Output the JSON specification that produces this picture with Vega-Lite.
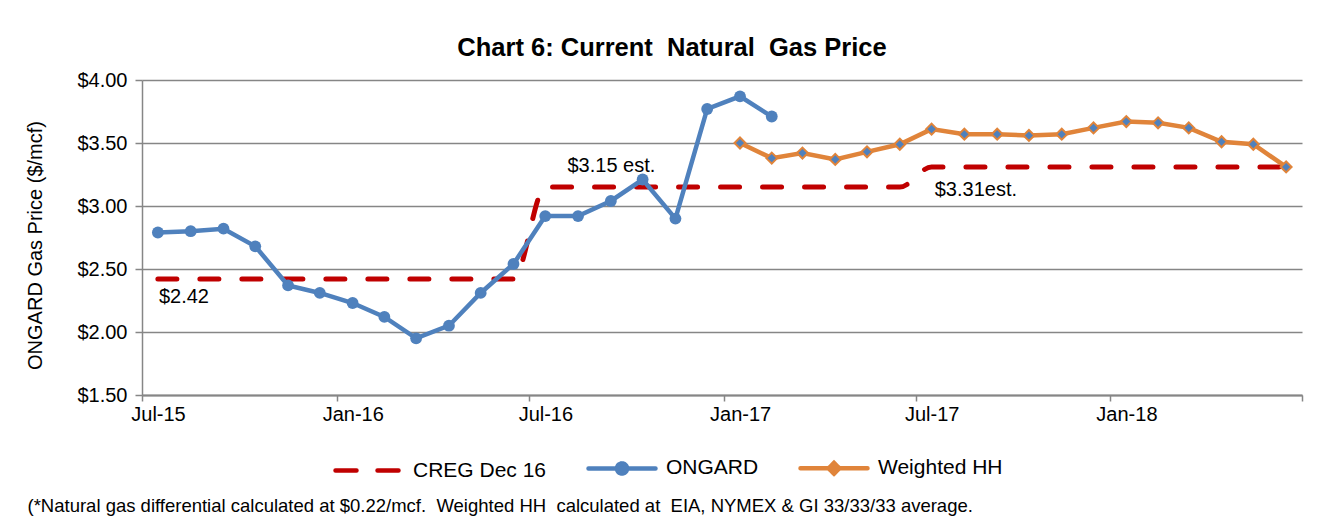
{
  "$schema": "https://vega.github.io/schema/vega-lite/v6.json",
  "width": 1160,
  "height": 315,
  "autosize": "none",
  "padding": {"left": 142, "top": 80, "right": 41, "bottom": 132},
  "background": "white",
  "config": {"font": "Liberation Sans", "view": {"stroke": null}},
  "title": {"text": "Chart 6: Current\u00a0 Natural\u00a0 Gas Price", "fontSize": 25.5, "fontWeight": "bold", "color": "black", "anchor": "middle", "dx": -50, "offset": 9},
  "data": {"values": [
    {"series": "CREG Dec 16", "date": "2015-07-16", "price": 2.42},
    {"series": "CREG Dec 16", "date": "2015-08-16", "price": 2.42},
    {"series": "CREG Dec 16", "date": "2015-09-16", "price": 2.42},
    {"series": "CREG Dec 16", "date": "2015-10-16", "price": 2.42},
    {"series": "CREG Dec 16", "date": "2015-11-16", "price": 2.42},
    {"series": "CREG Dec 16", "date": "2015-12-16", "price": 2.42},
    {"series": "CREG Dec 16", "date": "2016-01-16", "price": 2.42},
    {"series": "CREG Dec 16", "date": "2016-02-15", "price": 2.42},
    {"series": "CREG Dec 16", "date": "2016-03-16", "price": 2.42},
    {"series": "CREG Dec 16", "date": "2016-04-16", "price": 2.42},
    {"series": "CREG Dec 16", "date": "2016-05-16", "price": 2.42},
    {"series": "CREG Dec 16", "date": "2016-06-16", "price": 2.42},
    {"series": "CREG Dec 16", "date": "2016-07-16", "price": 3.15},
    {"series": "CREG Dec 16", "date": "2016-08-16", "price": 3.15},
    {"series": "CREG Dec 16", "date": "2016-09-16", "price": 3.15},
    {"series": "CREG Dec 16", "date": "2016-10-16", "price": 3.15},
    {"series": "CREG Dec 16", "date": "2016-11-16", "price": 3.15},
    {"series": "CREG Dec 16", "date": "2016-12-16", "price": 3.15},
    {"series": "CREG Dec 16", "date": "2017-01-16", "price": 3.15},
    {"series": "CREG Dec 16", "date": "2017-02-15", "price": 3.15},
    {"series": "CREG Dec 16", "date": "2017-03-16", "price": 3.15},
    {"series": "CREG Dec 16", "date": "2017-04-16", "price": 3.15},
    {"series": "CREG Dec 16", "date": "2017-05-16", "price": 3.15},
    {"series": "CREG Dec 16", "date": "2017-06-16", "price": 3.15},
    {"series": "CREG Dec 16", "date": "2017-07-16", "price": 3.31},
    {"series": "CREG Dec 16", "date": "2017-08-16", "price": 3.31},
    {"series": "CREG Dec 16", "date": "2017-09-16", "price": 3.31},
    {"series": "CREG Dec 16", "date": "2017-10-16", "price": 3.31},
    {"series": "CREG Dec 16", "date": "2017-11-16", "price": 3.31},
    {"series": "CREG Dec 16", "date": "2017-12-16", "price": 3.31},
    {"series": "CREG Dec 16", "date": "2018-01-16", "price": 3.31},
    {"series": "CREG Dec 16", "date": "2018-02-15", "price": 3.31},
    {"series": "CREG Dec 16", "date": "2018-03-16", "price": 3.31},
    {"series": "CREG Dec 16", "date": "2018-04-16", "price": 3.31},
    {"series": "CREG Dec 16", "date": "2018-05-16", "price": 3.31},
    {"series": "CREG Dec 16", "date": "2018-06-16", "price": 3.31},
    {"series": "ONGARD", "date": "2015-07-16", "price": 2.79},
    {"series": "ONGARD", "date": "2015-08-16", "price": 2.80},
    {"series": "ONGARD", "date": "2015-09-16", "price": 2.82},
    {"series": "ONGARD", "date": "2015-10-16", "price": 2.68},
    {"series": "ONGARD", "date": "2015-11-16", "price": 2.37},
    {"series": "ONGARD", "date": "2015-12-16", "price": 2.31},
    {"series": "ONGARD", "date": "2016-01-16", "price": 2.23},
    {"series": "ONGARD", "date": "2016-02-15", "price": 2.12},
    {"series": "ONGARD", "date": "2016-03-16", "price": 1.95},
    {"series": "ONGARD", "date": "2016-04-16", "price": 2.05},
    {"series": "ONGARD", "date": "2016-05-16", "price": 2.31},
    {"series": "ONGARD", "date": "2016-06-16", "price": 2.54},
    {"series": "ONGARD", "date": "2016-07-16", "price": 2.92},
    {"series": "ONGARD", "date": "2016-08-16", "price": 2.92},
    {"series": "ONGARD", "date": "2016-09-16", "price": 3.04},
    {"series": "ONGARD", "date": "2016-10-16", "price": 3.21},
    {"series": "ONGARD", "date": "2016-11-16", "price": 2.90},
    {"series": "ONGARD", "date": "2016-12-16", "price": 3.77},
    {"series": "ONGARD", "date": "2017-01-16", "price": 3.87},
    {"series": "ONGARD", "date": "2017-02-15", "price": 3.71},
    {"series": "Weighted HH", "date": "2017-01-16", "price": 3.50},
    {"series": "Weighted HH", "date": "2017-02-15", "price": 3.38},
    {"series": "Weighted HH", "date": "2017-03-16", "price": 3.42},
    {"series": "Weighted HH", "date": "2017-04-16", "price": 3.37},
    {"series": "Weighted HH", "date": "2017-05-16", "price": 3.43},
    {"series": "Weighted HH", "date": "2017-06-16", "price": 3.49},
    {"series": "Weighted HH", "date": "2017-07-16", "price": 3.61},
    {"series": "Weighted HH", "date": "2017-08-16", "price": 3.57},
    {"series": "Weighted HH", "date": "2017-09-16", "price": 3.57},
    {"series": "Weighted HH", "date": "2017-10-16", "price": 3.56},
    {"series": "Weighted HH", "date": "2017-11-16", "price": 3.57},
    {"series": "Weighted HH", "date": "2017-12-16", "price": 3.62},
    {"series": "Weighted HH", "date": "2018-01-16", "price": 3.67},
    {"series": "Weighted HH", "date": "2018-02-15", "price": 3.66},
    {"series": "Weighted HH", "date": "2018-03-16", "price": 3.62},
    {"series": "Weighted HH", "date": "2018-04-16", "price": 3.51},
    {"series": "Weighted HH", "date": "2018-05-16", "price": 3.49},
    {"series": "Weighted HH", "date": "2018-06-16", "price": 3.31}
  ]},
  "encoding": {
    "x": {
      "field": "date", "type": "temporal",
      "scale": {"domain": [{"year": 2015, "month": 7, "date": 1}, {"year": 2018, "month": 7, "date": 1}]},
      "axis": {
        "values": [
          {"year": 2015, "month": 7, "date": 1}, {"year": 2016, "month": 1, "date": 1},
          {"year": 2016, "month": 7, "date": 1}, {"year": 2017, "month": 1, "date": 1},
          {"year": 2017, "month": 7, "date": 1}, {"year": 2018, "month": 1, "date": 1},
          {"year": 2018, "month": 7, "date": 1}
        ],
        "labelExpr": "datum.value >= datetime(2018, 5, 1) ? '' : timeFormat(datum.value, '%b-%y')",
        "labelOffset": 16, "labelFontSize": 20, "labelColor": "black", "labelPadding": 3,
        "labelFlush": false, "labelOverlap": false, "labelBound": false,
        "tickSize": 6, "tickColor": "#868686", "tickWidth": 1.5,
        "domainColor": "#868686", "domainWidth": 2, "grid": false,
        "title": "(*Natural gas differential calculated at $0.22/mcf.\u00a0 Weighted HH\u00a0 calculated at\u00a0 EIA, NYMEX & GI 33/33/33 average.",
        "titleFontSize": 18.5, "titleFontWeight": "normal", "titleColor": "black",
        "titleX": -115, "titleY": 116, "titleAlign": "left", "titleAnchor": "start", "titleBaseline": "alphabetic"
      }
    },
    "y": {
      "field": "price", "type": "quantitative",
      "scale": {"domain": [1.5, 4], "nice": false, "zero": false},
      "axis": {
        "values": [1.5, 2, 2.5, 3, 3.5, 4], "format": "$.2f",
        "labelFontSize": 20, "labelColor": "black", "labelPadding": 8, "labelFlush": false,
        "tickSize": 7, "tickColor": "#868686", "tickWidth": 1.5,
        "domainColor": "#868686", "domainWidth": 1.5,
        "grid": true, "gridColor": "#868686", "gridWidth": 1.3,
        "title": "ONGARD Gas Price ($/mcf)", "titleFontSize": 20, "titleFontWeight": "normal", "titleColor": "black",
        "titleX": -107, "titleY": 165, "titleBaseline": "middle", "titleAngle": -90, "titleAlign": "center"
      }
    }
  },
  "layer": [
    {
      "transform": [{"filter": "datum.series === 'CREG Dec 16'"}],
      "mark": {"type": "line", "strokeWidth": 5, "strokeDash": [19, 23], "strokeCap": "round", "interpolate": "monotone"},
      "encoding": {
        "color": {
          "field": "series", "type": "nominal",
          "scale": {"domain": ["CREG Dec 16", "ONGARD", "Weighted HH"], "range": ["#c00000", "#4f81bd", "#e0843a"]},
          "legend": {
            "title": null, "orient": "none", "direction": "horizontal", "legendX": 191, "legendY": 352, "padding": 0,
            "labelFontSize": 21, "labelColor": "black", "labelFont": "Liberation Sans",
            "symbolSize": 4489, "symbolStrokeWidth": 4.5, "labelOffset": 8, "columnPadding": 32,
            "encode": {"symbols": {"update": {
              "shape": {"signal": "datum.value === 'ONGARD' ? 'M-1,0L1,0M0.15,0A0.15,0.15,0,1,1,-0.15,0A0.15,0.15,0,1,1,0.15,0Z' : datum.value === 'Weighted HH' ? 'M-1,0L1,0M0,-0.16L0.16,0L0,0.16L-0.16,0Z' : 'M-1,0L1,0'"},
              "fill": {"signal": "datum.value === 'CREG Dec 16' ? 'transparent' : '#4f81bd'"},
              "stroke": {"signal": "datum.value === 'CREG Dec 16' ? '#c00000' : datum.value === 'ONGARD' ? '#4f81bd' : '#e0843a'"},
              "strokeDash": {"signal": "datum.value === 'CREG Dec 16' ? [21, 21] : [1, 0]"},
              "strokeCap": {"value": "round"},
              "strokeWidth": {"value": 4.5},
              "opacity": {"value": 1}
            }}}
          }
        }
      }
    },
    {
      "transform": [{"filter": "datum.series !== 'CREG Dec 16'"}],
      "mark": {"type": "line", "strokeWidth": 4.5},
      "encoding": {
        "color": {"field": "series", "type": "nominal", "scale": {"domain": ["CREG Dec 16", "ONGARD", "Weighted HH"], "range": ["#c00000", "#4f81bd", "#e0843a"]}}
      }
    },
    {
      "transform": [{"filter": "datum.series === 'ONGARD'"}],
      "mark": {"type": "point", "shape": "circle", "filled": true, "size": 140, "color": "#4f81bd", "opacity": 1}
    },
    {
      "transform": [{"filter": "datum.series === 'Weighted HH'"}],
      "mark": {"type": "point", "shape": "diamond", "filled": true, "size": 120, "fill": "#4f81bd", "stroke": "#e0843a", "strokeWidth": 2, "opacity": 1}
    },
    {
      "data": {"values": [
        {"date": "2015-07-17", "price": 2.278, "label": "$2.42"},
        {"date": "2016-08-06", "price": 3.317, "label": "$3.15 est."},
        {"date": "2017-07-19", "price": 3.125, "label": "$3.31est."}
      ]},
      "mark": {"type": "text", "align": "left", "baseline": "middle", "fontSize": 20, "color": "black"},
      "encoding": {"text": {"field": "label"}}
    }
  ]
}
